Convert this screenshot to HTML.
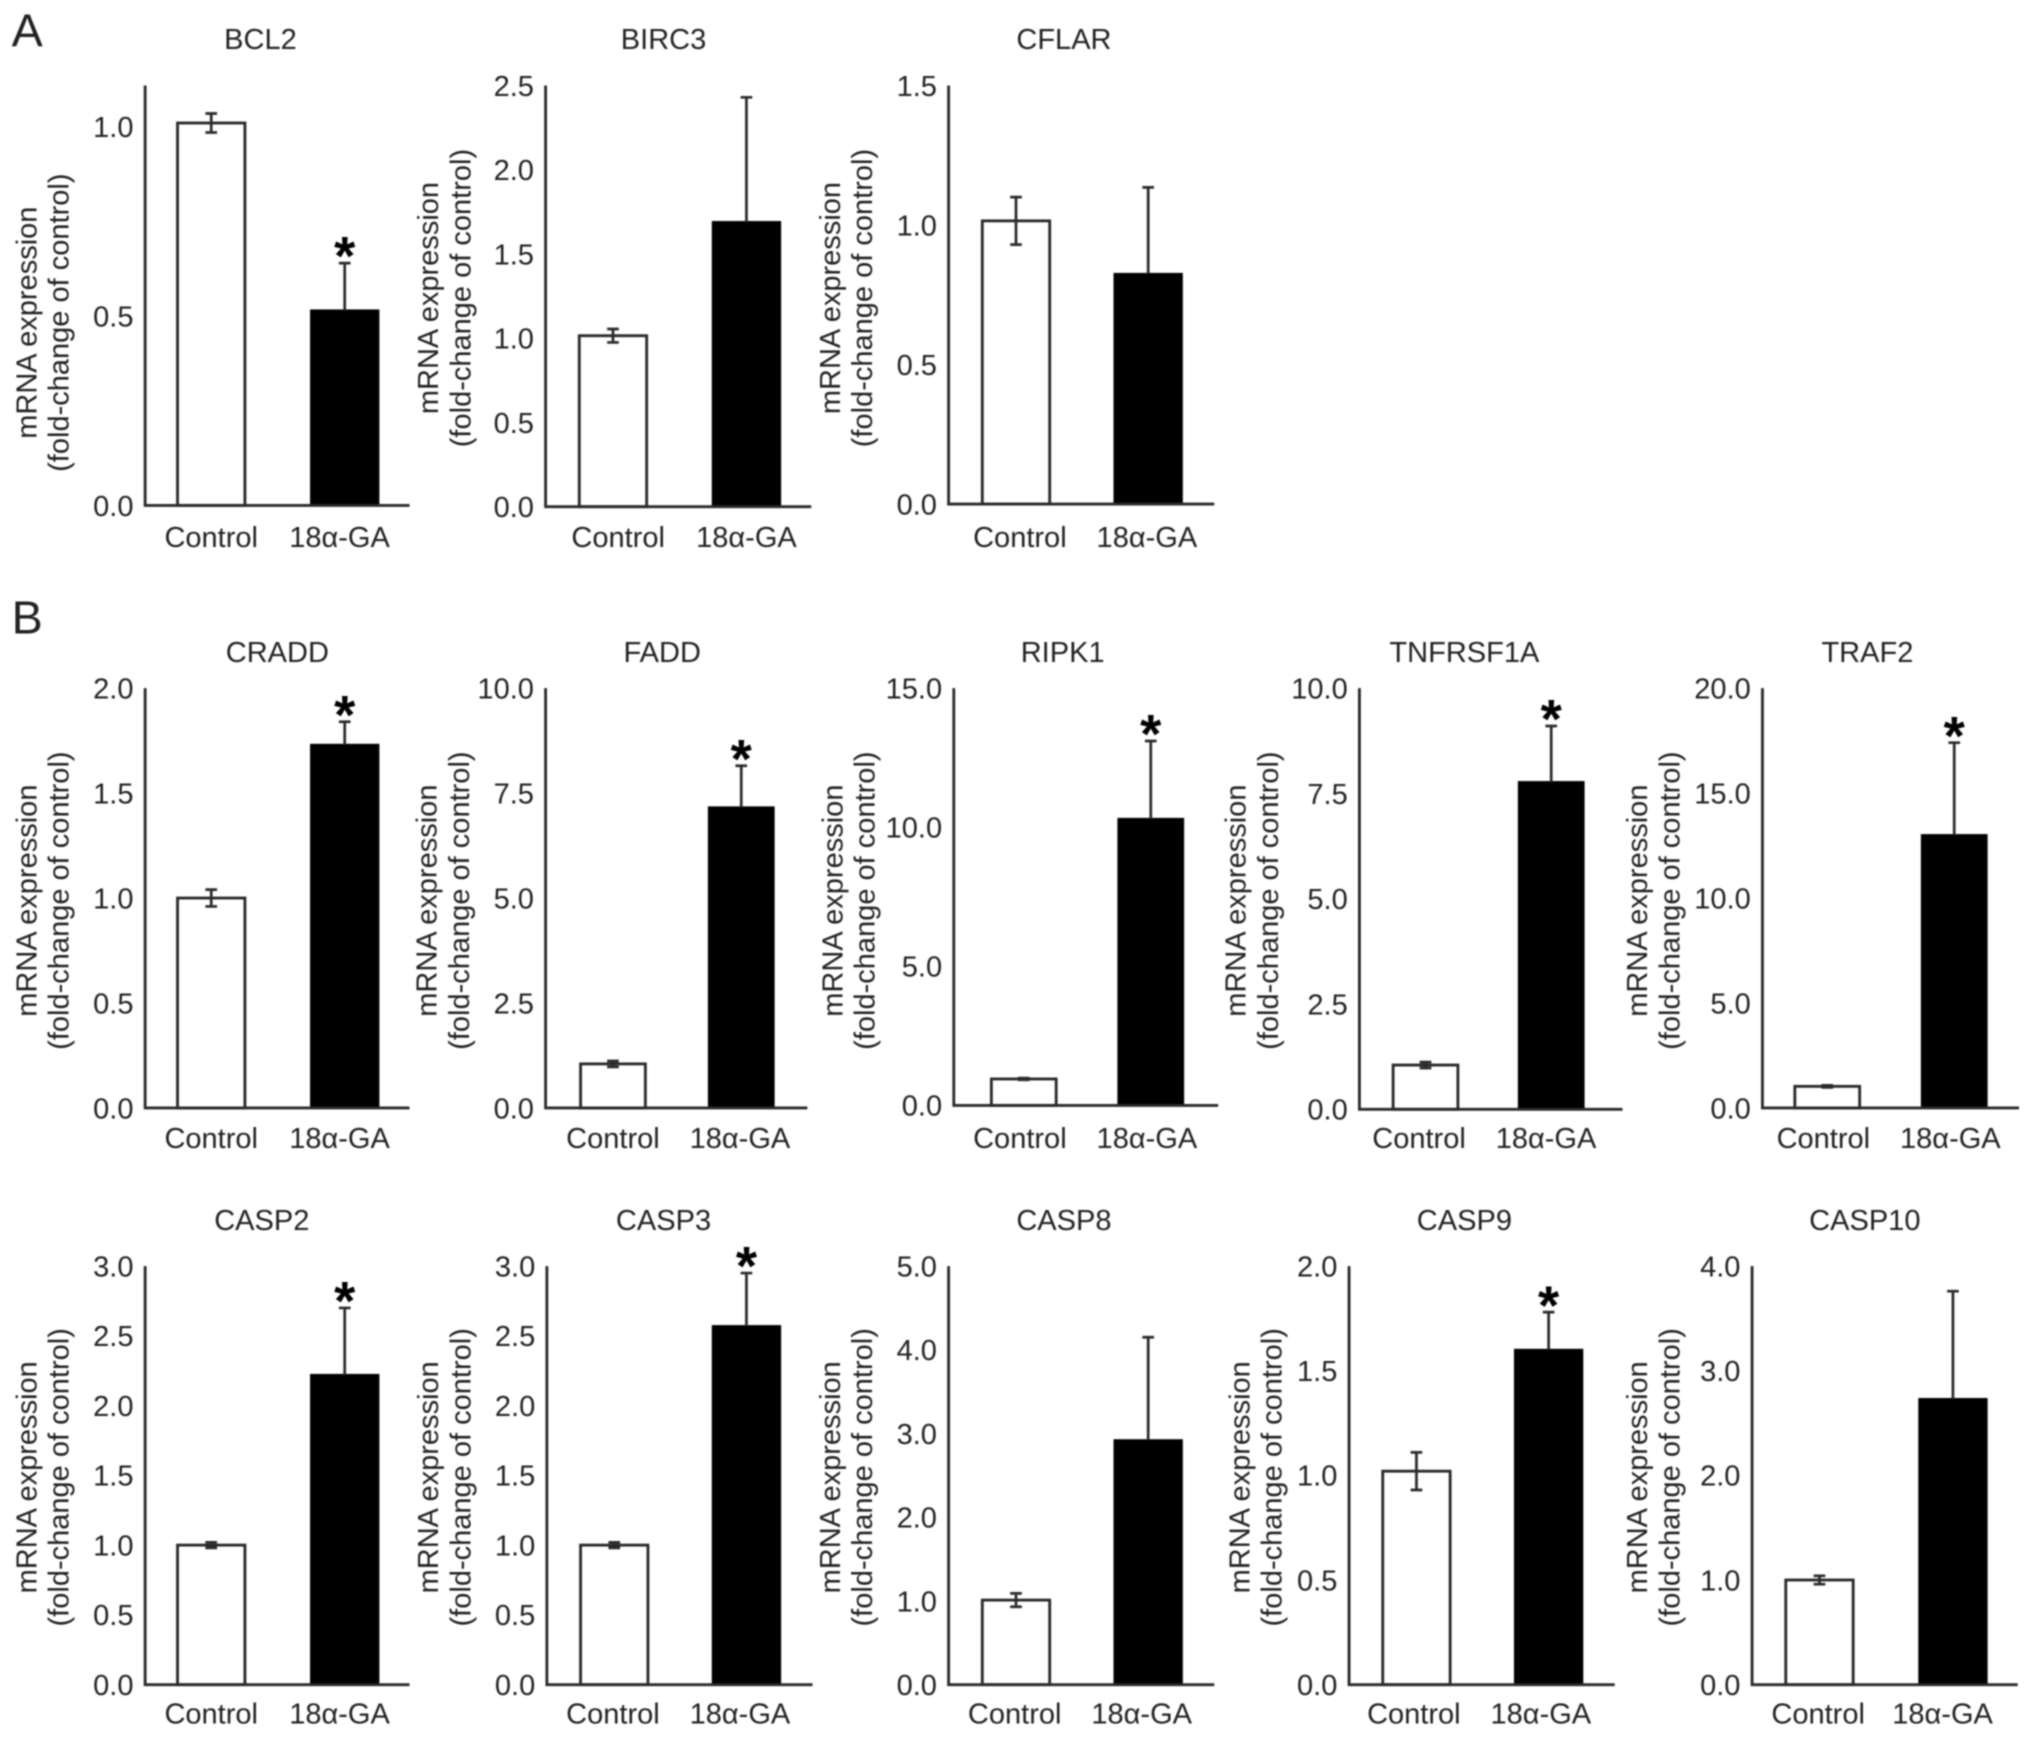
<!DOCTYPE html>
<html>
<head>
<meta charset="utf-8">
<title>mRNA expression bar charts</title>
<style>
html,body{margin:0;padding:0;background:#fff;width:2032px;height:1737px;overflow:hidden}
svg{display:block;filter:blur(0.7px)}
text{font-family:"Liberation Sans",sans-serif;fill:#222;font-size:22.4px}
</style>
</head>
<body>
<svg id="figure" xmlns="http://www.w3.org/2000/svg" width="2032" height="1737" viewBox="0 0 1568 1340.4" preserveAspectRatio="none">
<rect width="1568" height="1341" fill="#fff"/>
<text x="9" y="36" style="font-size:36px">A</text>
<text x="9" y="489" style="font-size:36px">B</text>
</svg>
<script>
// ---- data ----
const categories = ["Control", "18α-GA"];
const panelTitles = ["BCL2","BIRC3","CFLAR","CRADD","FADD","RIPK1","TNFRSF1A","TRAF2","CASP2","CASP3","CASP8","CASP9","CASP10"];
const controlMeans = [1.01,1.015,1.015,1.0,1.05,0.95,1.05,1.03,1.0,1.0,1.01,1.02,1.0];
const controlErrors = [0.025,0.04,0.085,0.04,0.07,0.03,0.07,0.05,0.02,0.02,0.08,0.09,0.04];
const treatedMeans = [0.515,1.69,0.825,1.73,7.16,10.3,7.77,13.0,2.22,2.57,2.92,1.6,2.73];
const treatedErrors = [0.125,0.74,0.31,0.11,0.99,2.8,1.33,4.4,0.48,0.38,1.23,0.18,1.03];
const significant = [true,false,false,true,true,true,true,true,true,true,false,true,false];
const axisMaxes = [1.109,2.5,1.5,2,10,15,10,20,3,3,5,2,4];
const tickLabels = [
  ["0.0","0.5","1.0"],
  ["0.0","0.5","1.0","1.5","2.0","2.5"],
  ["0.0","0.5","1.0","1.5"],
  ["0.0","0.5","1.0","1.5","2.0"],
  ["0.0","2.5","5.0","7.5","10.0"],
  ["0.0","5.0","10.0","15.0"],
  ["0.0","2.5","5.0","7.5","10.0"],
  ["0.0","5.0","10.0","15.0","20.0"],
  ["0.0","0.5","1.0","1.5","2.0","2.5","3.0"],
  ["0.0","0.5","1.0","1.5","2.0","2.5","3.0"],
  ["0.0","1.0","2.0","3.0","4.0","5.0"],
  ["0.0","0.5","1.0","1.5","2.0"],
  ["0.0","1.0","2.0","3.0","4.0"]
];
const yAxisLine1 = "mRNA expression";
const yAxisLine2 = "(fold-change of control)";

// ---- layout (panel frames, not data) ----
const frames = [
  {l:112,r:316,t:66,b:390,pad:25,step:103,w:52,lab0:163,lab1:262,laby:422,tx:201,ty:38,yl:20,yc:249},
  {l:421,r:626,t:66,b:391,pad:26,step:103,w:52,lab0:477,lab1:576,laby:422,tx:512,ty:38,yl:330,yc:230},
  {l:732,r:937,t:66,b:389,pad:26,step:102,w:52,lab0:787,lab1:885,laby:422,tx:821,ty:38,yl:640,yc:230},
  {l:112,r:316,t:531,b:855,pad:25,step:103,w:52,lab0:163,lab1:262,laby:886,tx:214,ty:511,yl:20,yc:695},
  {l:421,r:623,t:531,b:855,pad:27,step:99,w:50,lab0:473,lab1:571,laby:886,tx:511,ty:511,yl:329,yc:695},
  {l:736,r:940,t:531,b:853,pad:29,step:98,w:50,lab0:787,lab1:885,laby:886,tx:820,ty:511,yl:642,yc:695},
  {l:1049,r:1252,t:531,b:856,pad:26,step:97,w:50,lab0:1095,lab1:1193,laby:886,tx:1130,ty:511,yl:953,yc:695},
  {l:1360,r:1558,t:531,b:855,pad:25,step:98,w:50,lab0:1407,lab1:1505,laby:886,tx:1441,ty:511,yl:1263,yc:695},
  {l:112,r:316,t:977,b:1300,pad:25,step:103,w:52,lab0:163,lab1:262,laby:1330,tx:202,ty:949,yl:20,yc:1140},
  {l:422,r:627,t:977,b:1300,pad:26,step:102,w:52,lab0:473,lab1:571,laby:1330,tx:512,ty:949,yl:330,yc:1140},
  {l:732,r:937,t:977,b:1300,pad:26,step:102,w:52,lab0:783,lab1:881,laby:1330,tx:821,ty:949,yl:640,yc:1140},
  {l:1041,r:1246,t:977,b:1300,pad:26,step:102,w:52,lab0:1091,lab1:1189,laby:1330,tx:1130,ty:949,yl:956,yc:1140},
  {l:1352,r:1557,t:977,b:1300,pad:26,step:103,w:52,lab0:1403,lab1:1499,laby:1330,tx:1439,ty:949,yl:1263,yc:1140}
];

const NS = "http://www.w3.org/2000/svg";
const INK = "#2a2a2a";
const svg = document.getElementById("figure");

function make(tag, parent, attrs, txt) {
  const el = document.createElementNS(NS, tag);
  for (const k in attrs) el.setAttribute(k, attrs[k]);
  if (txt !== undefined) el.textContent = txt;
  parent.appendChild(el);
  return el;
}
function slug(s) { return s.toLowerCase().replace(/[^a-z0-9]+/g, "-"); }

panelTitles.forEach(function (title, i) {
  const f = frames[i];
  const yScale = function (v) { return f.b - (v / axisMaxes[i]) * (f.b - f.t); };
  const xScale = function (c) { return f.l + f.pad + c * f.step; };
  const id = slug(title);

  const g = make("g", svg, {});
  
  

  const t = make("text", g, {x: f.tx, y: f.ty, "text-anchor": "middle"}, title);
  
  

  // y axis title
  const yt = make("text", g, {transform: "translate(" + (f.yl + 8) + "," + f.yc + ") rotate(-90)", "text-anchor": "middle"}, yAxisLine1);
  
  
  const yt2 = make("text", g, {transform: "translate(" + (f.yl + 33) + "," + f.yc + ") rotate(-90)", "text-anchor": "middle"}, yAxisLine2);
  
  

  // tick labels
  tickLabels[i].forEach(function (lab) {
    const tl = make("text", g, {x: f.l - 9, y: yScale(parseFloat(lab)) + 8, "text-anchor": "end"}, lab);
    
    
  });

  // control bar
  const cx = xScale(0) + f.w / 2;
  const b0 = make("rect", g, {x: xScale(0), y: yScale(controlMeans[i]), width: f.w, height: yScale(0) - yScale(controlMeans[i]), fill: "#fff", stroke: INK, "stroke-width": 2.2});
  
  

  // treated bar
  const tx = xScale(1) + f.w / 2;
  const b1 = make("rect", g, {x: xScale(1), y: yScale(treatedMeans[i]), width: f.w, height: yScale(0) - yScale(treatedMeans[i]), fill: "#000", stroke: "#000", "stroke-width": 1.5});
  
  

  // control error bar
  const e0 = make("path", g, {
    d: "M" + cx + " " + yScale(controlMeans[i] + controlErrors[i]) + "V" + yScale(controlMeans[i] - controlErrors[i]) +
       "M" + (cx - 4.5) + " " + yScale(controlMeans[i] + controlErrors[i]) + "h9" +
       "M" + (cx - 4.5) + " " + yScale(controlMeans[i] - controlErrors[i]) + "h9",
    fill: "none", stroke: INK, "stroke-width": 2.1});
  
  

  // treated error bar
  const top = yScale(treatedMeans[i] + treatedErrors[i]);
  const e1 = make("path", g, {
    d: "M" + tx + " " + yScale(treatedMeans[i]) + "V" + top + "M" + (tx - 4.5) + " " + top + "h9",
    fill: "none", stroke: INK, "stroke-width": 2.1});
  
  

  if (significant[i]) {
    const s = make("text", g, {x: tx, y: top + 9, "text-anchor": "middle", style: "font-size:42px;font-weight:bold;fill:#000"}, "*");
    
    
  }

  // axes
  const ax = make("path", g, {d: "M" + f.l + " " + f.t + "V" + f.b + "H" + f.r, fill: "none", stroke: INK, "stroke-width": 2.2});
  
  

  // x labels
  const l0 = make("text", g, {x: f.lab0, y: f.laby, "text-anchor": "middle"}, categories[0]);
  
  
  const l1 = make("text", g, {x: f.lab1, y: f.laby, "text-anchor": "middle"}, categories[1]);
  
  
});
</script>
</body>
</html>
